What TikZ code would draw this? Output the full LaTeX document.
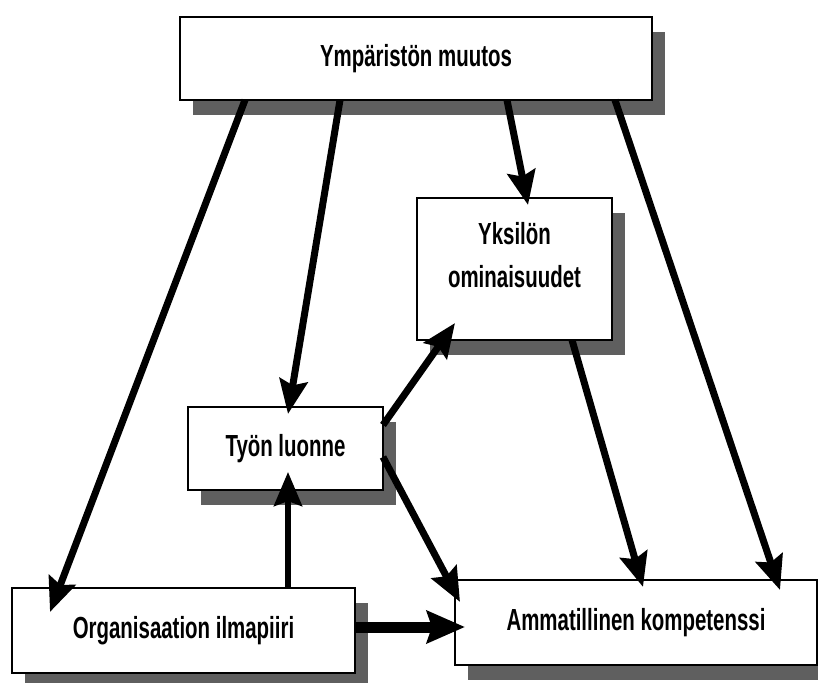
\documentclass[tikz,border=0pt]{standalone}
\usepackage{fontspec}
\newfontfamily\boxfont{Liberation Sans Bold}[FakeStretch=0.67]
\usepackage{tikz}
\usetikzlibrary{positioning, arrows.meta, shadows}
\definecolor{ShadowGray}{RGB}{95,95,95}

\begin{document}
\begin{tikzpicture}[x=1pt, y=-1pt,
    box/.style={draw=black, line width=1.3pt, fill=white, inner sep=0pt, outer sep=0pt,
      align=center, font=\boxfont\fontsize{30.5}{43}\selectfont,
      drop shadow={shadow xshift=13pt, shadow yshift=-15pt, fill=ShadowGray, opacity=1}},
    arr/.style={line width=7pt, -{Stealth[length=34pt, width=28pt, inset=5pt]}},
    bigarr/.style={line width=11pt, -{Stealth[length=38pt, width=32pt, inset=5pt]}}]
  \fill[white] (0,0) rectangle (818,682);
  \useasboundingbox (0,0) rectangle (818,682);
  % boxes
  \node[box, minimum width=472pt, minimum height=83pt] (ymp) at (416,58.5) {Ympäristön muutos};
  \node[box, minimum width=195pt, minimum height=142pt,
    label={[font=\boxfont\fontsize{30.5}{43}\selectfont, align=center, yshift=14pt]center:Yksilön\\ominaisuudet}] (yks) at (514.5,269) {};
  \node[box, minimum width=195pt, minimum height=83pt] (tyon) at (285.5,448.5) {Työn luonne};
  \node[box, minimum width=343pt, minimum height=85pt] (org) at (183.5,630.5) {\raisebox{4pt}{Organisaation ilmapiiri}};
  \node[box, minimum width=362pt, minimum height=85pt] (amm) at (636,622.5) {\raisebox{5pt}{Ammatillinen kompetenssi}};
  % arrows
  \draw[arr] ([xshift=65pt]ymp.south west) -- ([xshift=38pt,yshift=-24pt]org.north west);
  \draw[arr] ([xshift=160pt]ymp.south west) -- ([xshift=100pt,yshift=-7pt]tyon.north west);
  \draw[arr] ([xshift=327pt]ymp.south west) -- ([xshift=111pt,yshift=-7pt]yks.north west);
  \draw[arr] ([xshift=435pt]ymp.south west) -- ([xshift=325pt,yshift=-10pt]amm.north west);
  \draw[arr] ([yshift=-18pt]tyon.north east) -- ([xshift=38pt,yshift=17pt]yks.south west);
  \draw[arr] ([yshift=-50pt]tyon.north east) -- ([xshift=5pt,yshift=-22pt]amm.north west);
  \draw[arr] ([xshift=155pt]yks.south west) -- ([xshift=188pt,yshift=-7pt]amm.north west);
  \draw[arr, line width=6pt] ([xshift=276pt]org.north west) -- ([xshift=100pt,yshift=18pt]tyon.south west);
  \draw[bigarr] ([yshift=3.5pt]org.east) -- ([xshift=10pt,yshift=-4.5pt]amm.west);
\end{tikzpicture}
\end{document}
